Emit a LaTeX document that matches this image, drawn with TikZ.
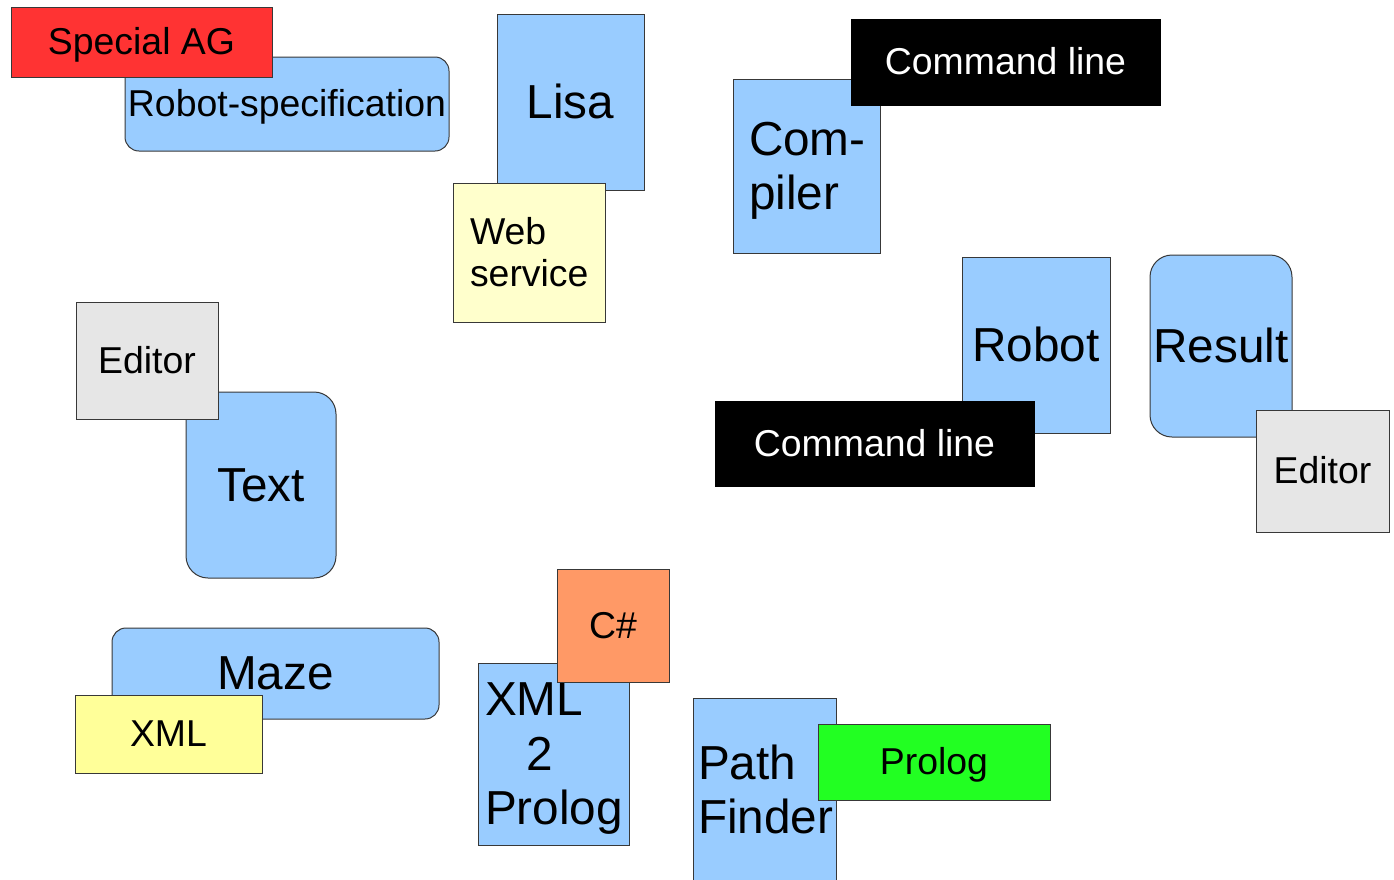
\documentclass[tikz,border=0pt]{standalone}
\usepackage{fontspec}
\setmainfont{Liberation Sans}
\definecolor{skyblue}{HTML}{99CCFF}
\definecolor{tagred}{HTML}{FF3333}
\definecolor{paleyellow}{HTML}{FFFFCC}
\definecolor{lemon}{HTML}{FFFF99}
\definecolor{lightgrey}{HTML}{E6E6E6}
\definecolor{salmon}{HTML}{FF9966}
\definecolor{brightgreen}{HTML}{22FF22}
% strut spanning the full ascent/descent of the font
\newcommand\lstrut{\rule[-0.212em]{0pt}{1.1em}}
% one unbreakable line of text carrying the strut
\newcommand\tline[1]{\mbox{\lstrut #1}}
\begin{document}
\begin{tikzpicture}[x=1pt,y=-1pt,
  box/.style={draw=black!78, line width=1pt, inner sep=0pt, anchor=center},
  small/.style={font=\fontsize{37.4}{41}\selectfont},
  big/.style={font=\fontsize{47.7}{54}\selectfont},
  part/.style={box, fill=skyblue, big},
  partround/.style={box, fill=skyblue, big},
  tagbox/.style={box, small},
  cmdbox/.style={box, draw=black, fill=black, text=white, small},
]
\useasboundingbox (0,0) rectangle (1394,879);

% top left: robot specification with its owner tag
\node[box, fill=skyblue, small, rounded corners=14pt, minimum width=324pt, minimum height=94pt]
  (spec) at (287,104) {\tline{Robot-specification}};
\node[tagbox, fill=tagred, minimum width=261pt, minimum height=70pt]
  (agtag) at (141.5,42) {\tline{Special AG}};

% Lisa with web service
\node[part, minimum width=147pt, minimum height=176pt] (lisa) at (570.5,102) {\tline{Lisa}};
\node[tagbox, fill=paleyellow, minimum width=152pt, minimum height=139pt,
      text width=118pt, align=left] (web) at (529,252.5) {\tline{Web}\\ \tline{service}};

% compiler with command line
\node[part, minimum width=147pt, minimum height=174pt, text width=115pt, align=left]
  (compiler) at (806.5,166) {\tline{Com-}\\ \tline{piler}};
\node[cmdbox, minimum width=309pt, minimum height=86pt] (cmdtop) at (1005.5,62) {\tline{Command line}};

% robot with command line
\node[part, minimum width=148pt, minimum height=176pt] (robot) at (1036,345) {\tline{Robot}};
\node[cmdbox, minimum width=319pt, minimum height=85pt] (cmdbot) at (874.5,443.5) {\tline{Command line}};

% result with editor
\node[partround, rounded corners=22pt, minimum width=142pt, minimum height=182pt]
  (result) at (1221,346) {\tline{Result}};
\node[tagbox, fill=lightgrey, minimum width=133pt, minimum height=122pt] (editorR) at (1322.5,471) {\tline{Editor}};

% text with editor
\node[partround, rounded corners=22pt, minimum width=150pt, minimum height=186pt]
  (text) at (261,485) {\tline{Text}};
\node[tagbox, fill=lightgrey, minimum width=142pt, minimum height=117pt] (editorL) at (147,360.5) {\tline{Editor}};

% maze with XML
\node[partround, rounded corners=14pt, minimum width=327pt, minimum height=91pt]
  (maze) at (275.5,673.5) {\tline{Maze}};
\node[tagbox, fill=lemon, minimum width=187pt, minimum height=78pt] (xml) at (168.5,734) {\tline{XML}};

% XML 2 Prolog with C#
\node[part, font=\fontsize{47.7}{54.5}\selectfont, minimum width=151pt, minimum height=182pt,
      text width=137pt, align=left]
  (xmlprolog) at (553.5,754) {\tline{XML}\\ \tline{\hspace*{41pt}2}\\ \tline{Prolog}};
\node[tagbox, fill=salmon, minimum width=112pt, minimum height=113pt] (csharp) at (613,625.5) {\tline{C\#}};

% path finder with Prolog
\node[part, minimum width=143pt, minimum height=184pt, text width=133pt, align=left]
  (pathfinder) at (764.5,790) {\tline{Path}\\ \tline{Finder}};
\node[tagbox, fill=brightgreen, minimum width=232pt, minimum height=76pt] (prolog) at (934,762) {\tline{Prolog}};
\end{tikzpicture}
\end{document}
